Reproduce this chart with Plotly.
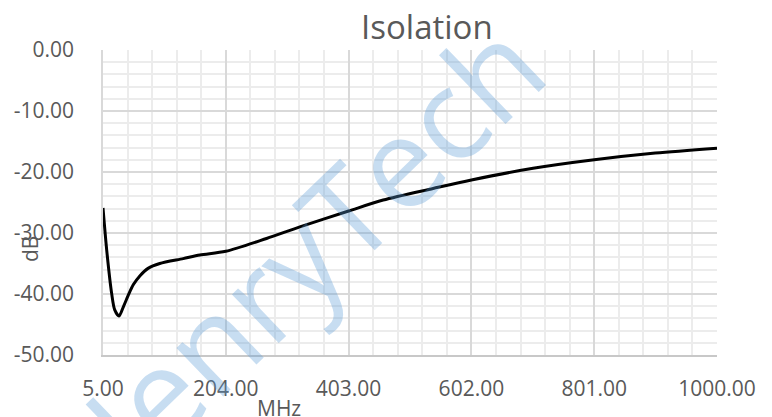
import plotly.graph_objects as go

# Data
freq_mhz = [5, 11, 19, 24, 31, 38, 46, 54, 65, 78, 97, 135, 162, 204, 270,
            324, 403, 459, 540, 602, 702, 801, 900, 1000]
isolation_db = [-25.9, -32.8, -39.9, -42.6, -43.6, -42.1, -40.2, -38.5, -37.0,
                -35.8, -35.0, -34.2, -33.6, -33.0, -30.9, -29.0, -26.4, -24.6,
                -22.7, -21.3, -19.4, -18.0, -16.9, -16.1]

x_tick_vals = [5, 204, 403, 602, 801, 1000]
x_tick_text = ["5.00", "204.00", "403.00", "602.00", "801.00", "1000.00"]
y_tick_vals = [0, -10, -20, -30, -40, -50]
y_tick_text = ["0.00", "-10.00", "-20.00", "-30.00", "-40.00", "-50.00"]

FONT = "Open Sans"
TXT = "#595959"

# the page body has an 8px default margin; compensate so the plot area
# lands at page pixels x 103..717, y 50..355
PAGE_OFF = 8
W, H = 772, 417
L, R, T, B = 103, 717, 50, 355
PW, PH = R - L, B - T

fig = go.Figure()
fig.add_trace(go.Scatter(
    x=freq_mhz, y=isolation_db, mode="lines",
    line=dict(color="black", width=3, shape="spline", smoothing=0.8),
    hoverinfo="skip", showlegend=False,
))


def px(xp):
    return (xp - L) / PW


def py(yp):
    return (B - yp) / PH


fig.update_layout(
    width=W, height=H,
    margin=dict(l=L - PAGE_OFF, r=W + PAGE_OFF - R, t=T - PAGE_OFF, b=H + PAGE_OFF - B,
                autoexpand=False),
    paper_bgcolor="white", plot_bgcolor="white",
    font=dict(family=FONT, color=TXT, size=21),
    showlegend=False,
    xaxis=dict(
        range=[5, 1000], tickvals=x_tick_vals, ticktext=x_tick_text,
        showgrid=True, gridcolor="#d9d9d9", gridwidth=1.5,
        minor=dict(dtick=39.8, tick0=5, showgrid=True, gridcolor="#ececec", gridwidth=1.5),
        showline=True, linecolor="#c8c8c8", linewidth=2,
        zeroline=False, ticks="", ticklabelstandoff=14, automargin=False,
        tickfont=dict(size=21, color=TXT, family=FONT),
    ),
    yaxis=dict(
        range=[-50, 0], tickvals=y_tick_vals, ticktext=y_tick_text,
        showgrid=True, gridcolor="#d9d9d9", gridwidth=1.5,
        minor=dict(dtick=2, tick0=0, showgrid=True, gridcolor="#ececec", gridwidth=1.5),
        showline=True, linecolor="#d9d9d9", linewidth=1.5,
        zeroline=False, ticks="", ticklabelstandoff=23, automargin=False,
        tickfont=dict(size=21, color=TXT, family=FONT),
    ),
    annotations=[
        dict(text="HenryTech", xref="paper", yref="paper",
             x=px(291), y=py(263), xanchor="center", yanchor="middle",
             textangle=-44, showarrow=False,
             font=dict(size=126, color="rgba(91,155,213,0.34)", family=FONT)),
        dict(text="Isolation", xref="paper", yref="paper",
             x=px(427), y=py(26), xanchor="center", yanchor="middle",
             showarrow=False, font=dict(size=33, color=TXT, family=FONT)),
        dict(text="dB", xref="paper", yref="paper",
             x=px(30), y=py(249), xanchor="center", yanchor="middle",
             textangle=-90, showarrow=False, font=dict(size=21, color=TXT, family=FONT)),
        dict(text="MHz", xref="paper", yref="paper",
             x=px(279), y=py(408), xanchor="center", yanchor="middle",
             showarrow=False, font=dict(size=21, color=TXT, family=FONT)),
    ],
)

fig.write_html("out.html")
